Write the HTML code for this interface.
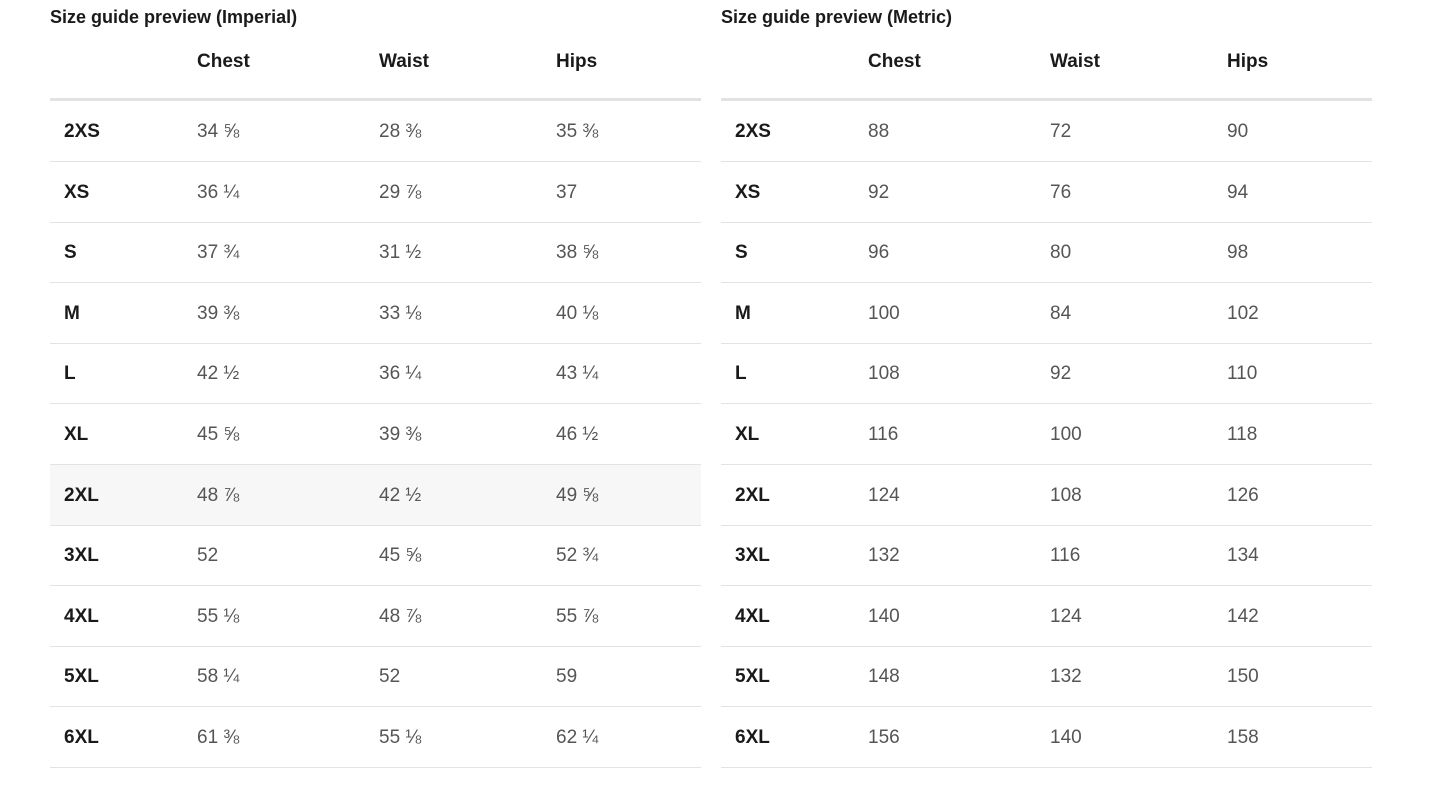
<!DOCTYPE html>
<html><head><meta charset="utf-8"><style>
body{margin:0;width:1445px;height:810px;background:#fff;font-family:"Liberation Sans",sans-serif;color:#1a1a1a;position:relative;overflow:hidden}
.t{position:absolute;top:0;width:651px}
.title{position:absolute;top:7px;left:0;font-size:18px;font-weight:bold;white-space:nowrap}
.hd{position:absolute;top:51px;font-size:19px;font-weight:bold}
.hl{position:absolute;top:98px;left:0;width:651px;height:3px;background:#e2e2e2}
.r{position:absolute;left:0;width:651px;height:60px;border-bottom:1px solid #e3e3e3}
.r span{position:absolute;top:20px;font-size:19px;color:#555}
.r span.s{font-weight:bold;color:#1a1a1a}
</style></head><body>
<div class="t" style="left:50px" id="a"></div>
<div class="t" style="left:721px" id="b"></div>
<script>
var sizes=["2XS","XS","S","M","L","XL","2XL","3XL","4XL","5XL","6XL"];
var imp=[["34 ⅝","28 ⅜","35 ⅜"],["36 ¼","29 ⅞","37"],["37 ¾","31 ½","38 ⅝"],["39 ⅜","33 ⅛","40 ⅛"],["42 ½","36 ¼","43 ¼"],["45 ⅝","39 ⅜","46 ½"],["48 ⅞","42 ½","49 ⅝"],["52","45 ⅝","52 ¾"],["55 ⅛","48 ⅞","55 ⅞"],["58 ¼","52","59"],["61 ⅜","55 ⅛","62 ¼"]];
var met=[[88,72,90],[92,76,94],[96,80,98],[100,84,102],[108,92,110],[116,100,118],[124,108,126],[132,116,134],[140,124,142],[148,132,150],[156,140,158]];
function build(id,title,data,hl){
 var h='<div class="title">'+title+'</div>';
 var xs=[147,329,506],names=["Chest","Waist","Hips"];
 for(var i=0;i<3;i++)h+='<div class="hd" style="left:'+xs[i]+'px">'+names[i]+'</div>';
 h+='<div class="hl"></div>';
 for(var r=0;r<11;r++){
  var top=101+r*60.6;
  h+='<div class="r" style="top:'+top+'px;'+(hl&&r==6?'background:#f7f7f7':'')+'"><span class="s" style="left:14px">'+sizes[r]+'</span>';
  for(var c=0;c<3;c++)h+='<span style="left:'+xs[c]+'px">'+data[r][c]+'</span>';
  h+='</div>';
 }
 document.getElementById(id).innerHTML=h;
}
build("a","Size guide preview (Imperial)",imp,true);
build("b","Size guide preview (Metric)",met,false);
</script>
</body></html>
